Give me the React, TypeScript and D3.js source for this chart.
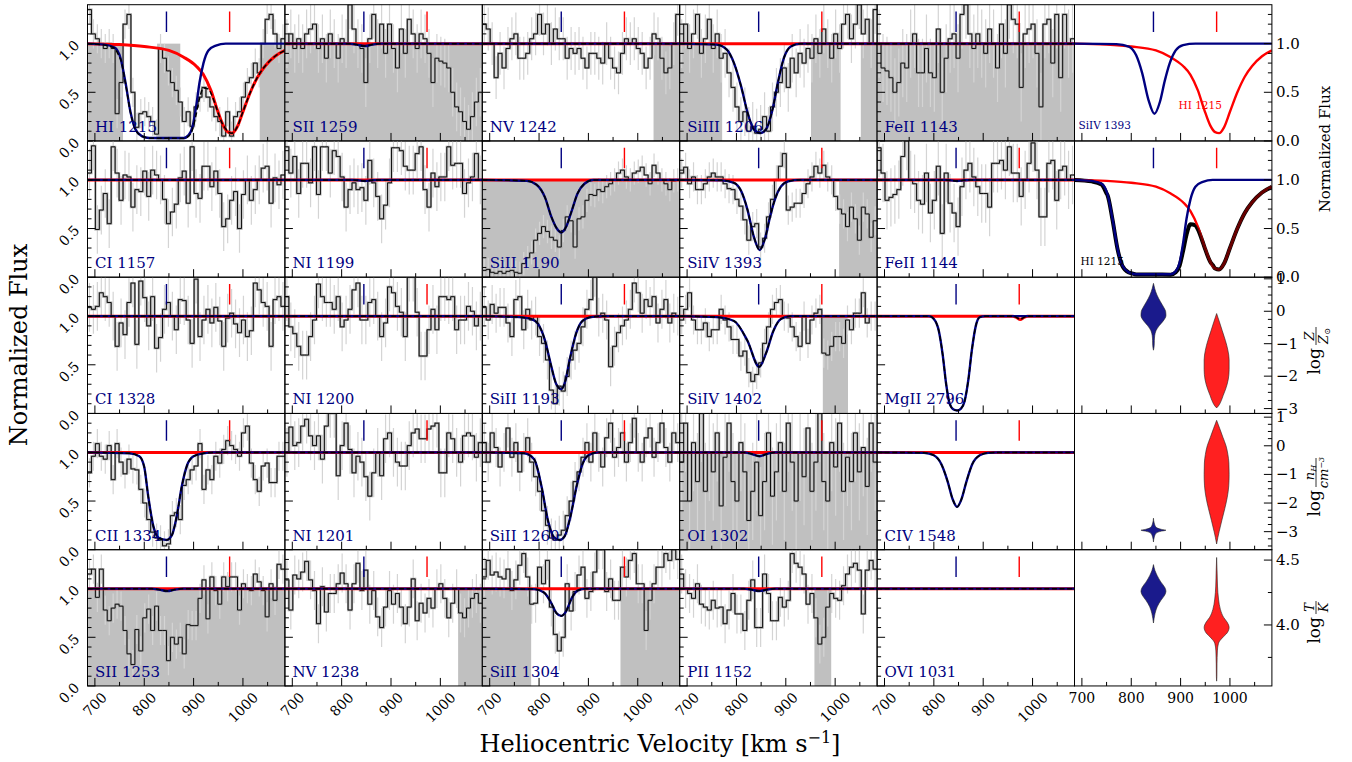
import React from 'react';
import * as d3 from 'd3';

// ---------- axes / grid values ----------
const V_MIN = 685;
const V_MAX = 1085;
const BIN_STEP = 8; // km/s per spectral bin (50 bins)
const X_MAJOR = [700, 800, 900, 1000];
const X_MINOR = [750, 850, 950, 1050];
const FLUX_DOMAIN: [number, number] = [0, 1.4];
const FLUX_MAJOR = [0, 0.5, 1.0];
const FLUX_LABELS = ['0.0', '0.5', '1.0'];
const BLUE_V = 845;
const RED_V = 973;

// ---------- spectra (normalized flux per 8 km/s bin, 685 -> 1085 km/s) ----------
const F_HI1215 = [1.35,1.1,1.05,1.0,0.95,1.0,0.95,0.28,0.6,1.2,1.3,0.5,0.14,0.28,0.3,0.25,0.2,0.07,0.95,0.85,0.72,0.6,0.52,0.4,0.2,0.3,0.15,0.35,0.45,0.55,0.45,0.35,0.25,0.2,0.05,0.3,0.05,0.25,0.3,0.45,0.6,0.65,0.8,0.7,1.0,1.25,1.3,1.1,0.95,1.05];
const F_SII1259 = [1.0,1.1,0.95,1.05,0.95,1.1,1.15,1.2,0.95,1.05,0.85,1.1,1.0,0.85,1.05,1.0,1.4,1.15,1.0,0.95,0.6,1.05,1.3,1.0,1.2,0.9,1.2,0.95,0.75,1.15,0.9,1.25,1.1,0.95,1.1,1.05,0.9,0.6,0.85,0.82,0.8,0.75,0.5,0.35,0.3,0.2,0.12,0.25,0.4,0.5];
const F_NV1242 = [1.2,1.15,1.0,0.65,0.9,0.75,0.95,1.05,1.1,0.85,0.85,0.9,1.05,1.1,1.3,1.1,1.2,1.0,1.15,1.05,1.05,0.85,0.95,0.9,0.95,0.85,0.75,0.9,0.9,0.85,0.8,1.0,0.85,0.75,0.7,0.9,1.05,1.0,1.05,0.95,0.9,0.75,0.85,1.1,1.05,0.85,0.7,0.75,1.0,1.3];
const F_SIIII1206 = [1.0,1.2,0.95,1.1,1.3,0.9,1.05,1.25,0.95,1.1,0.85,0.9,0.7,0.55,0.35,0.2,0.3,0.1,0.15,0.08,0.12,0.25,0.1,0.35,0.5,0.6,0.75,0.55,0.85,0.7,0.9,0.8,0.95,0.85,1.05,0.9,1.15,1.0,0.85,1.1,0.95,1.2,1.3,1.05,1.2,1.4,1.1,1.25,1.0,1.35];
const F_FEII1143 = [1.0,0.75,0.72,0.65,0.5,0.6,0.8,0.75,1.0,1.1,0.7,0.7,0.95,0.7,0.65,1.15,0.5,0.85,1.05,1.1,0.85,1.3,1.4,1.1,0.95,1.1,1.0,0.9,1.15,1.0,0.75,1.2,0.9,1.4,1.25,1.2,0.55,1.1,1.15,1.2,0.9,0.35,1.2,1.25,0.8,1.3,0.65,1.3,1.0,1.05];
const F_CI1157 = [1.07,1.35,0.49,0.69,0.86,0.55,1.34,1.07,0.79,1.05,1.03,0.72,0.9,0.88,1.09,0.83,1.1,1.05,1.0,0.8,0.55,0.67,0.75,1.02,1.09,0.76,1.34,0.86,0.81,1.14,1.14,0.93,1.09,0.86,0.52,0.6,0.79,0.88,0.5,0.85,1.0,0.79,0.9,1.0,1.12,1.14,0.76,1.02,0.95,1.05];
const F_NI1199 = [1.34,1.07,1.24,0.86,1.17,1.17,0.97,1.34,0.85,1.34,1.34,1.07,1.3,1.24,1.03,0.72,0.9,0.97,0.9,0.92,0.79,1.2,0.97,0.83,0.6,0.74,0.97,1.33,1.33,1.3,1.14,1.1,1.1,1.27,1.34,0.9,0.72,1.07,0.93,1.03,1.03,1.34,1.15,1.17,1.17,0.86,0.97,1.03,1.27,1.0];
const F_SIII1190 = [0.07,0.08,0.05,0.04,0.06,0.04,0.06,0.07,0.05,0.04,0.14,0.2,0.25,0.38,0.45,0.52,0.47,0.41,0.38,0.31,0.48,0.62,0.58,0.31,0.6,0.62,0.79,0.85,0.84,0.9,0.88,0.93,0.96,1.0,1.07,1.1,1.03,1.0,1.07,1.09,1.13,1.05,0.96,1.15,1.07,1.0,0.96,0.9,0.99,1.0];
const F_SIIV1393 = [1.07,1.13,0.96,1.03,0.9,0.9,0.96,1.03,1.07,1.03,1.03,0.96,0.91,0.9,0.8,0.73,0.59,0.38,0.52,0.55,0.31,0.4,0.62,0.8,1.0,1.14,1.27,0.69,0.72,0.76,0.76,0.86,0.96,1.03,1.14,1.07,1.15,1.03,1.0,0.83,0.7,0.65,0.52,0.72,0.6,0.38,0.72,0.65,0.41,0.58];
const F_FEII1144 = [1.33,1.07,0.79,0.82,0.85,0.9,1.24,1.4,1.0,0.96,0.79,0.75,1.07,0.66,0.79,1.14,0.45,1.07,0.76,0.66,0.52,0.93,1.1,1.17,1.03,0.93,0.86,0.86,0.72,1.17,1.17,1.2,1.1,1.34,1.07,1.07,0.83,1.0,1.17,1.38,1.1,0.62,0.62,1.17,1.2,0.79,1.1,1.14,1.0,1.05];
const F_CI1328 = [1.09,1.07,1.1,1.24,1.2,1.14,1.0,0.69,0.93,0.81,1.14,1.34,0.71,1.36,1.19,0.9,1.2,0.67,0.78,1.07,1.14,1.0,0.86,1.17,1.16,0.96,0.72,1.38,0.79,0.96,1.07,0.93,1.09,0.95,0.69,0.98,1.03,0.92,0.83,0.96,0.79,0.85,1.34,1.27,1.14,1.1,0.69,1.17,1.2,1.1];
const F_NI1200 = [1.2,0.89,0.82,0.69,0.6,0.6,0.79,0.96,1.33,1.2,1.14,1.14,1.07,1.2,0.89,0.96,1.07,1.27,1.34,0.96,0.96,1.14,1.17,1.0,0.79,0.93,1.3,1.24,1.1,1.04,0.79,1.4,1.4,1.04,0.59,0.59,0.86,1.07,0.86,1.2,1.2,1.17,1.2,0.86,0.96,0.96,1.1,1.05,0.9,1.0];
const F_SIII1193 = [1.09,0.96,1.12,1.03,1.09,1.09,0.93,0.79,1.17,1.2,0.86,1.07,0.96,1.0,0.79,0.72,0.55,0.24,0.1,0.28,0.23,0.38,0.55,0.65,0.72,0.89,1.07,1.17,1.4,0.99,1.03,0.96,0.48,0.69,0.83,0.9,0.96,1.07,1.34,1.24,1.03,1.17,1.1,1.2,0.93,1.07,1.17,0.93,1.03,1.0];
const F_SIIV1402 = [0.96,1.07,1.24,0.96,0.86,0.86,0.93,0.79,0.86,0.86,1.07,0.96,0.89,0.76,0.76,0.59,0.64,0.42,0.33,0.4,0.52,0.72,0.89,1.07,1.14,1.17,1.0,0.98,0.89,0.79,0.69,1.0,0.72,0.96,1.03,1.07,0.62,0.6,0.69,0.79,0.79,0.72,0.96,0.86,1.03,1.03,1.24,0.93,1.0,1.0];
const F_CII1334 = [0.79,0.96,1.09,0.96,0.93,1.07,0.72,1.09,0.9,0.78,0.93,0.83,0.82,0.62,0.48,0.31,0.18,0.12,0.1,0.04,0.06,0.35,0.38,0.31,0.66,0.72,0.82,0.86,1.09,0.62,0.82,0.72,0.96,0.89,1.03,1.12,1.07,1.03,0.96,1.2,1.27,0.89,0.72,0.6,0.86,0.89,0.69,0.69,0.96,0.96];
const F_NI1201 = [1.0,1.26,1.07,1.1,1.27,1.34,1.17,1.07,1.17,0.93,1.27,1.4,1.4,0.76,1.07,1.3,1.03,0.79,0.96,0.9,0.75,0.55,0.79,1.0,0.76,1.14,1.2,1.0,0.9,0.86,0.86,1.07,1.2,1.24,1.14,1.14,1.24,1.27,1.3,0.79,0.79,1.2,1.14,1.0,0.9,1.17,1.2,1.17,0.95,1.1];
const F_SIII1260 = [1.1,0.9,1.2,1.05,0.85,1.0,1.25,0.95,1.1,0.8,1.0,1.15,0.9,0.75,0.6,0.4,0.25,0.12,0.1,0.15,0.2,0.35,0.5,0.7,0.8,0.95,1.1,0.9,1.2,1.0,0.85,1.15,1.3,0.95,1.05,1.2,0.9,1.1,1.35,1.0,0.9,1.15,1.25,0.95,1.1,1.3,1.05,0.9,1.2,1.1];
const F_OI1302 = [0.9,1.3,0.5,1.1,0.7,1.4,0.6,1.0,0.8,1.2,0.45,0.95,1.3,0.7,0.5,1.1,0.8,0.3,0.6,0.9,0.35,0.7,1.2,0.55,0.8,1.1,0.6,1.3,0.9,0.5,1.0,0.75,1.25,0.6,0.9,1.4,0.7,0.5,1.1,0.85,1.3,0.6,0.95,0.7,1.2,0.8,1.05,0.65,1.3,0.9];
const F_SII1253 = [1.15,1.2,0.91,1.2,0.78,0.67,0.8,0.84,0.82,0.57,0.33,0.22,0.58,0.36,0.7,0.79,0.57,0.82,0.57,0.57,0.26,0.5,0.43,0.5,0.33,0.63,0.62,0.62,0.9,1.09,0.69,1.12,0.98,0.84,1.12,1.02,1.12,1.12,0.78,1.05,1.0,0.98,1.15,1.07,0.98,0.71,1.05,0.88,1.25,1.2];
const F_NV1238 = [1.09,0.78,1.14,1.1,1.17,1.28,1.09,0.98,0.64,1.02,0.76,0.95,0.95,1.05,1.16,1.05,0.78,1.05,1.26,0.98,1.19,0.84,0.98,0.71,0.6,0.81,0.98,0.84,0.95,0.81,0.64,0.81,1.1,0.67,0.85,0.75,0.9,0.8,1.0,1.05,0.9,0.7,0.85,1.0,0.75,0.7,0.8,0.9,0.95,0.85];
const F_SIII1304 = [1.12,1.29,1.14,1.17,1.12,1.1,1.2,0.98,1.09,1.24,1.36,1.12,0.84,0.85,1.22,1.05,1.29,0.81,0.53,0.36,0.5,1.05,0.77,0.97,1.14,1.22,0.9,0.97,1.17,1.4,1.4,0.97,1.1,0.88,0.88,1.22,1.12,1.29,1.36,1.05,1.05,0.57,0.88,1.05,1.22,1.22,1.36,1.29,1.4,1.3];
const F_PII1152 = [1.15,1.0,0.95,0.9,1.05,0.84,0.81,0.78,0.88,0.8,0.81,0.64,0.78,0.95,0.74,0.74,0.57,0.88,1.09,0.6,0.6,1.15,0.95,0.67,0.67,0.91,0.81,0.88,1.36,1.26,1.22,1.15,0.84,0.95,0.7,0.43,0.5,0.81,0.95,0.9,0.88,1.03,1.15,1.22,1.26,1.19,0.74,1.19,1.29,1.2];

// ---------- model profiles [velocity, flux] ----------
const M_FLAT = [[685, 1], [1085, 1]];
const M_HI_BLUE = [[685,1],[720,0.99],[740,0.96],[752,0.85],[762,0.6],[772,0.3],[782,0.12],[795,0.05],[810,0.03],[880,0.03],[890,0.06],[898,0.15],[905,0.35],[912,0.6],[920,0.8],[930,0.93],[945,0.98],[965,1],[1085,1]];
const M_HI_RED = [[685,1],[750,0.99],[800,0.97],[850,0.93],[880,0.86],[905,0.77],[920,0.68],[935,0.52],[948,0.32],[960,0.16],[970,0.09],[978,0.08],[988,0.14],[1000,0.3],[1015,0.5],[1030,0.66],[1045,0.77],[1065,0.87],[1085,0.93]];
const M_SIIII_BLUE = [[685,1],[760,0.99],[780,0.94],[795,0.8],[810,0.55],[822,0.3],[835,0.12],[848,0.08],[860,0.12],[872,0.3],[884,0.6],[896,0.85],[910,0.97],[930,1],[1085,1]];
const M_SIIV1393_BLUE = [[685,1],[770,0.995],[795,0.97],[810,0.88],[822,0.7],[835,0.42],[847,0.28],[858,0.4],[868,0.62],[878,0.8],[890,0.93],[905,0.985],[930,1],[1085,1]];
const M_SIII1190_BLUE = [[685,1],[775,0.99],[795,0.95],[812,0.82],[825,0.62],[836,0.5],[845,0.46],[855,0.52],[866,0.68],[878,0.86],[892,0.96],[910,1],[1085,1]];
const M_SIII1193_BLUE = [[685,1],[760,0.99],[785,0.97],[798,0.92],[812,0.75],[824,0.5],[835,0.3],[845,0.25],[853,0.33],[862,0.55],[875,0.82],[888,0.95],[905,0.99],[930,1],[1085,1]];
const M_SIIV1402_BLUE = [[685,1],[760,0.99],[795,0.95],[822,0.75],[846,0.48],[860,0.62],[875,0.85],[890,0.97],[910,1],[1085,1]];
const M_MGII_BLUE = [[685,1],[790,1],[800,0.97],[810,0.85],[818,0.6],[825,0.3],[832,0.1],[840,0.04],[847,0.03],[855,0.05],[862,0.12],[870,0.35],[877,0.65],[885,0.9],[893,0.99],[905,1],[1085,1]];
const M_MGII_RED = [[685,1],[960,1],[968,0.985],[975,0.965],[982,0.985],[990,1],[1085,1]];
const M_CII_BLUE = [[685,1],[770,0.99],[790,0.96],[800,0.85],[808,0.55],[818,0.25],[830,0.12],[845,0.1],[856,0.15],[866,0.35],[876,0.65],[887,0.87],[900,0.96],[920,0.99],[940,1],[1085,1]];
const M_SIII1260_BLUE = [[685,1],[770,0.99],[790,0.93],[805,0.65],[818,0.3],[830,0.13],[842,0.1],[852,0.14],[864,0.35],[876,0.65],[888,0.88],[900,0.97],[920,1],[1085,1]];
const M_CIV_BLUE = [[685,1],[780,0.995],[800,0.97],[815,0.88],[828,0.7],[838,0.52],[847,0.44],[856,0.52],[866,0.7],[878,0.88],[893,0.97],[910,0.995],[930,1],[1085,1]];
const M_SIII1304_BLUE = [[685,1],[790,0.995],[810,0.96],[825,0.85],[835,0.75],[845,0.72],[855,0.77],[866,0.9],[878,0.98],[895,1],[1085,1]];
const M_WEAK_BLUE = [[685,1],[815,1],[830,0.99],[847,0.975],[862,0.99],[878,1],[1085,1]];
const M_FAINT_BLUE = [[685,1],[820,1],[835,0.995],[847,0.988],[860,0.995],[875,1],[1085,1]];
const M_OI_BLUE = [[685,1],[815,1],[830,0.985],[847,0.96],[862,0.985],[878,1],[1085,1]];

// ---------- posterior violins: [parameter value, relative density] ----------
const V_Z_BLUE = [[0.86,0],[0.7,0.1],[0.5,0.28],[0.3,0.55],[0.1,0.85],[0.0,0.97],[-0.13,1],[-0.3,0.78],[-0.45,0.45],[-0.6,0.2],[-0.75,0.1],[-0.9,0.07],[-1.05,0.06],[-1.2,0]];
const V_Z_RED = [[-0.07,0],[-0.3,0.2],[-0.6,0.45],[-0.9,0.7],[-1.2,0.9],[-1.5,1],[-1.8,1],[-2.1,0.93],[-2.4,0.72],[-2.6,0.52],[-2.8,0.32],[-2.92,0.14],[-2.98,0]];
const V_NH_BLUE = [[-2.53,0],[-2.7,0.06],[-2.85,0.22],[-2.92,0.65],[-2.95,1],[-2.98,0.65],[-3.05,0.22],[-3.2,0.06],[-3.36,0]];
const V_NH_RED = [[0.89,0],[0.6,0.25],[0.3,0.5],[0.0,0.75],[-0.3,0.9],[-0.6,0.98],[-1.0,1],[-1.4,0.97],[-1.8,0.85],[-2.2,0.65],[-2.6,0.42],[-3.0,0.2],[-3.2,0.1],[-3.43,0]];
const V_T_BLUE = [[4.465,0],[4.42,0.12],[4.38,0.3],[4.33,0.6],[4.29,0.9],[4.26,1],[4.23,0.9],[4.19,0.6],[4.14,0.3],[4.09,0.13],[4.05,0.05],[4.015,0]];
const V_T_RED = [[4.52,0],[4.4,0.04],[4.3,0.07],[4.2,0.15],[4.12,0.3],[4.06,0.55],[4.02,0.85],[3.98,1],[3.94,0.85],[3.9,0.45],[3.86,0.15],[3.8,0.06],[3.7,0.03],[3.6,0.02],[3.567,0]];

// ---------- panel table ----------
type Panel = { label: string; flux: number[] | null; err: number; shade: number[][]; blue: number[][]; red: number[][] };
const ALL = [[685, 1085]];
const ROWS: Panel[][] = [
  [
    { label: 'HI 1215', flux: F_HI1215, err: 0.15, shade: [[685,757],[826,873],[1034,1085]], blue: M_HI_BLUE, red: M_HI_RED },
    { label: 'SII 1259', flux: F_SII1259, err: 0.25, shade: ALL, blue: M_WEAK_BLUE, red: M_FLAT },
    { label: 'NV 1242', flux: F_NV1242, err: 0.22, shade: [[1032,1085]], blue: M_FLAT, red: M_FLAT },
    { label: 'SiIII 1206', flux: F_SIIII1206, err: 0.25, shade: [[685,771],[951,1011],[1052,1085]], blue: M_SIIII_BLUE, red: M_FLAT },
    { label: 'FeII 1143', flux: F_FEII1143, err: 0.35, shade: ALL, blue: M_FLAT, red: M_FLAT },
  ],
  [
    { label: 'CI 1157', flux: F_CI1157, err: 0.25, shade: [], blue: M_FLAT, red: M_FLAT },
    { label: 'NI 1199', flux: F_NI1199, err: 0.25, shade: [], blue: M_FAINT_BLUE, red: M_FLAT },
    { label: 'SiII 1190', flux: F_SIII1190, err: 0.12, shade: ALL, blue: M_SIII1190_BLUE, red: M_FLAT },
    { label: 'SiIV 1393', flux: F_SIIV1393, err: 0.15, shade: [[1008,1085]], blue: M_SIIV1393_BLUE, red: M_FLAT },
    { label: 'FeII 1144', flux: F_FEII1144, err: 0.3, shade: [], blue: M_FAINT_BLUE, red: M_FLAT },
  ],
  [
    { label: 'CI 1328', flux: F_CI1328, err: 0.25, shade: [], blue: M_FLAT, red: M_FLAT },
    { label: 'NI 1200', flux: F_NI1200, err: 0.25, shade: [], blue: M_FLAT, red: M_FLAT },
    { label: 'SiII 1193', flux: F_SIII1193, err: 0.2, shade: [], blue: M_SIII1193_BLUE, red: M_FLAT },
    { label: 'SiIV 1402', flux: F_SIIV1402, err: 0.15, shade: [[975,1026]], blue: M_SIIV1402_BLUE, red: M_FLAT },
    { label: 'MgII 2796', flux: null, err: 0, shade: [], blue: M_MGII_BLUE, red: M_MGII_RED },
  ],
  [
    { label: 'CII 1334', flux: F_CII1334, err: 0.15, shade: [], blue: M_CII_BLUE, red: M_FLAT },
    { label: 'NI 1201', flux: F_NI1201, err: 0.25, shade: [], blue: M_FLAT, red: M_FLAT },
    { label: 'SiII 1260', flux: F_SIII1260, err: 0.2, shade: [], blue: M_SIII1260_BLUE, red: M_FLAT },
    { label: 'OI 1302', flux: F_OI1302, err: 0.5, shade: ALL, blue: M_OI_BLUE, red: M_FLAT },
    { label: 'CIV 1548', flux: null, err: 0, shade: [], blue: M_CIV_BLUE, red: M_FLAT },
  ],
  [
    { label: 'SII 1253', flux: F_SII1253, err: 0.15, shade: ALL, blue: M_WEAK_BLUE, red: M_FLAT },
    { label: 'NV 1238', flux: F_NV1238, err: 0.2, shade: [[1036,1085]], blue: M_FLAT, red: M_FLAT },
    { label: 'SiII 1304', flux: F_SIII1304, err: 0.2, shade: [[685,784],[965,1085]], blue: M_SIII1304_BLUE, red: M_FLAT },
    { label: 'PII 1152', flux: F_PII1152, err: 0.2, shade: [[958,992]], blue: M_WEAK_BLUE, red: M_FLAT },
    { label: 'OVI 1031', flux: null, err: 0, shade: [], blue: M_FLAT, red: M_FLAT },
  ],
];

// right-column parameter axes
const Z_DOMAIN: [number, number] = [-3.15, 1.05];
const NH_DOMAIN: [number, number] = [-3.63, 1.13];
const T_DOMAIN: [number, number] = [3.53, 4.58];
const PARAM_MAJOR = [1, 0, -1, -2, -3];
const PARAM_LABELS = ['1', '0', '\u22121', '\u22122', '\u22123'];
const T_MAJOR = [4.0, 4.5];
const T_LABELS = ['4.0', '4.5'];

// ---------- layout ----------
const LEFT = 87.5;
const TOP = 4.7;
const COL_W = 197.4;
const ROW_H = 136.25;
const FONT = '"DejaVu Serif", "Liberation Serif", serif';
const NAVY = '#000080';
const GREY_SHADE = '#c0c0c0';

const colX = (c: number) => LEFT + c * COL_W;
const rowY = (r: number) => TOP + r * ROW_H;

function interp(pts: number[][]) {
  return d3.scaleLinear().domain(pts.map(p => p[0])).range(pts.map(p => p[1])).clamp(true);
}

function product(a: number[][], b: number[][]) {
  const xs = Array.from(new Set([...a.map(p => p[0]), ...b.map(p => p[0])])).sort((p, q) => p - q);
  const ia = interp(a), ib = interp(b);
  return xs.map(x => [x, ia(x) * ib(x)]);
}

function XTicks({ x, bottom }: { x: d3.ScaleLinear<number, number>; bottom: number }) {
  return (
    <g stroke="#000" strokeWidth={1}>
      {X_MAJOR.map(v => <line key={'M' + v} x1={x(v)} x2={x(v)} y1={bottom} y2={bottom - 8} />)}
      {X_MINOR.map(v => <line key={'m' + v} x1={x(v)} x2={x(v)} y1={bottom} y2={bottom - 4} />)}
    </g>
  );
}

function FluxPanel({ r, c, p }: { r: number; c: number; p: Panel }) {
  const x0 = colX(c), y0 = rowY(r);
  const x = d3.scaleLinear().domain([V_MIN, V_MAX]).range([x0, x0 + COL_W]);
  const y = d3.scaleLinear().domain(FLUX_DOMAIN).range([y0 + ROW_H, y0]);
  const id = `clip-${r}-${c}`;
  const line = d3.line<number[]>().x(d => x(d[0])).y(d => y(d[1])).curve(d3.curveMonotoneX);
  let step = '';
  let bins: number[][] = [];
  if (p.flux) {
    const edges = p.flux.map((f, i) => [V_MIN + BIN_STEP * i, f]);
    edges.push([V_MIN + BIN_STEP * p.flux.length, p.flux[p.flux.length - 1]]);
    step = d3.line<number[]>().x(d => x(d[0])).y(d => y(d[1])).curve(d3.curveStepAfter)(edges) || '';
    bins = p.flux.map((f, i) => [V_MIN + BIN_STEP * (i + 0.5), f]);
  }
  const total = product(p.blue, p.red);
  const minor = d3.range(1, 14).map(k => k / 10).filter(v => Math.abs(v - 0.5) > 1e-6 && Math.abs(v - 1) > 1e-6);
  return (
    <g>
      <defs>
        <clipPath id={id}><rect x={x0} y={y0} width={COL_W} height={ROW_H} /></clipPath>
      </defs>
      <g clipPath={`url(#${id})`}>
        {p.shade.map((s, i) => (
          <rect key={i} x={x(s[0])} y={y(1)} width={x(s[1]) - x(s[0])} height={y(0) - y(1)} fill={GREY_SHADE} />
        ))}
        {bins.map((b, i) => (
          <line key={i} x1={x(b[0])} x2={x(b[0])} y1={y(b[1] - p.err)} y2={y(b[1] + p.err)} stroke="#d4d4d4" strokeWidth={1.2} />
        ))}
        {p.flux && <path d={step} fill="none" stroke="#a8a8a8" strokeWidth={2.2} />}
        {p.flux && <path d={step} fill="none" stroke="#000" strokeWidth={0.9} />}
        <path d={line(p.red) || ''} fill="none" stroke="#ff0000" strokeWidth={3} />
        <path d={line(p.blue) || ''} fill="none" stroke={NAVY} strokeWidth={2.4} />
        <path d={line(total) || ''} fill="none" stroke="#000" strokeWidth={1.5} strokeDasharray="5,2.6" />
        <line x1={x(BLUE_V)} x2={x(BLUE_V)} y1={y(1.12)} y2={y(1.33)} stroke={NAVY} strokeWidth={1.4} />
        <line x1={x(RED_V)} x2={x(RED_V)} y1={y(1.12)} y2={y(1.33)} stroke="#ff0000" strokeWidth={1.4} />
      </g>
      <g stroke="#000" strokeWidth={1}>
        {FLUX_MAJOR.map(v => <line key={'M' + v} x1={x0} x2={x0 + 8} y1={y(v)} y2={y(v)} />)}
        {minor.map(v => <line key={'m' + v} x1={x0} x2={x0 + 4} y1={y(v)} y2={y(v)} />)}
      </g>
      <XTicks x={x} bottom={y0 + ROW_H} />
      <text x={x0 + 7.5} y={y0 + ROW_H - 9} fontFamily={FONT} fontSize={15} fill={NAVY}>{p.label}</text>
      <rect x={x0} y={y0} width={COL_W} height={ROW_H} fill="none" stroke="#000" strokeWidth={1} />
      {c === 0 && FLUX_MAJOR.map((v, i) => (
        <text key={'l' + v} transform={`translate(69,${y(v) + 7}) rotate(-45)`} textAnchor="middle" dominantBaseline="central"
          fontFamily={FONT} fontSize={14}>{FLUX_LABELS[i]}</text>
      ))}
      {r === 4 && X_MAJOR.map(v => {
        const lbl = String(v);
        const h = (lbl.length * 8.9 + 11) / Math.SQRT2;
        return (
          <text key={'x' + v} transform={`translate(${x(v)},${691 + h / 2}) rotate(-45)`} textAnchor="middle" dominantBaseline="central"
            fontFamily={FONT} fontSize={14}>{lbl}</text>
        );
      })}
    </g>
  );
}

function RightTicks({ y, major, labels, minor }: { y: d3.ScaleLinear<number, number>; major: number[]; labels: string[]; minor: number[] }) {
  const xr = colX(5) + COL_W;
  return (
    <g>
      <g stroke="#000" strokeWidth={1}>
        {major.map(v => <line key={'M' + v} x1={xr} x2={xr - 8} y1={y(v)} y2={y(v)} />)}
        {minor.map(v => <line key={'m' + v} x1={xr} x2={xr - 4} y1={y(v)} y2={y(v)} />)}
      </g>
      {major.map((v, i) => (
        <text key={'t' + v} x={xr + 4} y={y(v)} dominantBaseline="central" fontFamily={FONT} fontSize={15}>{labels[i]}</text>
      ))}
    </g>
  );
}

function ModelPanel({ r }: { r: number }) {
  const x0 = colX(5), y0 = rowY(r);
  const x = d3.scaleLinear().domain([V_MIN, V_MAX]).range([x0, x0 + COL_W]);
  const y = d3.scaleLinear().domain(FLUX_DOMAIN).range([y0 + ROW_H, y0]);
  const line = d3.line<number[]>().x(d => x(d[0])).y(d => y(d[1])).curve(d3.curveMonotoneX);
  const id = `clip-m-${r}`;
  const minor = d3.range(1, 14).map(k => k / 10).filter(v => Math.abs(v - 0.5) > 1e-6 && Math.abs(v - 1) > 1e-6);
  const blue = r === 0 ? M_SIIV1393_BLUE : M_HI_BLUE;
  const total = product(M_HI_BLUE, M_HI_RED);
  return (
    <g>
      <defs><clipPath id={id}><rect x={x0} y={y0} width={COL_W} height={ROW_H} /></clipPath></defs>
      <g clipPath={`url(#${id})`}>
        {r === 1 && <path d={line(total) || ''} fill="none" stroke="#000" strokeWidth={4} />}
        <path d={line(M_HI_RED) || ''} fill="none" stroke="#ff0000" strokeWidth={2.4} />
        <path d={line(blue) || ''} fill="none" stroke={NAVY} strokeWidth={2.4} />
        {r === 1 && <path d={line(total.filter(d => d[0] > 925)) || ''} fill="none" stroke="#000" strokeWidth={2.4} opacity={0.6} />}
        <line x1={x(BLUE_V)} x2={x(BLUE_V)} y1={y(1.12)} y2={y(1.33)} stroke={NAVY} strokeWidth={1.4} />
        <line x1={x(RED_V)} x2={x(RED_V)} y1={y(1.12)} y2={y(1.33)} stroke="#ff0000" strokeWidth={1.4} />
      </g>
      <XTicks x={x} bottom={y0 + ROW_H} />
      <RightTicks y={y} major={FLUX_MAJOR} labels={FLUX_LABELS} minor={minor} />
      {r === 0 && <text x={x0 + 4} y={y0 + 124} fontFamily={FONT} fontSize={10.5} fill={NAVY}>SiIV 1393</text>}
      {r === 0 && <text x={x0 + 104} y={y0 + 104} fontFamily={FONT} fontSize={10.5} fill="#ff0000">HI 1215</text>}
      {r === 1 && <text x={x0 + 6} y={y0 + 124} fontFamily={FONT} fontSize={10.5} fill="#000">HI 1215</text>}
      <rect x={x0} y={y0} width={COL_W} height={ROW_H} fill="none" stroke="#000" strokeWidth={1} />
    </g>
  );
}

function ViolinPanel({ r, domain, blue, red, major, labels, minorStep }: {
  r: number; domain: [number, number]; blue: number[][]; red: number[][]; major: number[]; labels: string[]; minorStep: number;
}) {
  const x0 = colX(5), y0 = rowY(r);
  const x = d3.scaleLinear().domain([V_MIN, V_MAX]).range([x0, x0 + COL_W]);
  const y = d3.scaleLinear().domain(domain).range([y0 + ROW_H, y0]);
  const halfW = 12.5;
  const area = (cx: number) => d3.area<number[]>()
    .y(d => y(d[0]))
    .x0(d => cx - d[1] * halfW)
    .x1(d => cx + d[1] * halfW)
    .curve(d3.curveMonotoneY);
  const sortV = (a: number[][]) => [...a].sort((p, q) => p[0] - q[0]);
  const lo = Math.ceil(domain[0] / minorStep) * minorStep;
  const minor = d3.range(lo, domain[1], minorStep).filter(v => !major.some(m => Math.abs(m - v) < 1e-6));
  return (
    <g>
      <path d={area(x(BLUE_V))(sortV(blue)) || ''} fill="#1a1a8c" stroke="#222" strokeWidth={0.6} />
      <path d={area(x(RED_V))(sortV(red)) || ''} fill="#ff2020" stroke="#222" strokeWidth={0.6} />
      <XTicks x={x} bottom={y0 + ROW_H} />
      <RightTicks y={y} major={major} labels={labels} minor={minor} />
      <rect x={x0} y={y0} width={COL_W} height={ROW_H} fill="none" stroke="#000" strokeWidth={1} />
    </g>
  );
}

function ParamLabel({ cy, num, den, w }: { cy: number; num: React.ReactNode; den: React.ReactNode; w: number }) {
  // rotated label: "log" followed by a fraction
  return (
    <g transform={`translate(1320,${cy}) rotate(-90)`} fontFamily={FONT}>
      <text x={0} y={0} fontSize={17} textAnchor="end">log</text>
      <text x={4 + w / 2} y={-6} fontSize={13} textAnchor="middle" fontStyle="italic">{num}</text>
      <line x1={3} x2={5 + w} y1={-4} y2={-4} stroke="#000" strokeWidth={0.8} />
      <text x={4 + w / 2} y={7.5} fontSize={13} textAnchor="middle" fontStyle="italic">{den}</text>
    </g>
  );
}

export default function App() {
  const bottom = rowY(5);
  const x6 = d3.scaleLinear().domain([V_MIN, V_MAX]).range([colX(5), colX(5) + COL_W]);
  return (
    <svg width={1352} height={762} style={{ display: 'block', position: 'absolute', left: 0, top: 0, background: '#fff' }}>
      <rect x={0} y={0} width={1352} height={762} fill="#fff" />
      {ROWS.map((row, r) => row.map((p, c) => <FluxPanel key={`${r}-${c}`} r={r} c={c} p={p} />))}
      <ModelPanel r={0} />
      <ModelPanel r={1} />
      <ViolinPanel r={2} domain={Z_DOMAIN} blue={V_Z_BLUE} red={V_Z_RED} major={PARAM_MAJOR} labels={PARAM_LABELS} minorStep={0.25} />
      <ViolinPanel r={3} domain={NH_DOMAIN} blue={V_NH_BLUE} red={V_NH_RED} major={PARAM_MAJOR} labels={PARAM_LABELS} minorStep={0.25} />
      <ViolinPanel r={4} domain={T_DOMAIN} blue={V_T_BLUE} red={V_T_RED} major={T_MAJOR} labels={T_LABELS} minorStep={0.25} />
      {X_MAJOR.map(v => (
        <text key={v} x={x6(v)} y={bottom + 17} textAnchor="middle" fontFamily={FONT} fontSize={14}>{v}</text>
      ))}
      <text transform="translate(1330,149) rotate(-90)" textAnchor="middle" fontFamily={FONT} fontSize={15}>Normalized Flux</text>
      <ParamLabel cy={348} w={16} num={<tspan>Z</tspan>} den={<tspan>Z<tspan fontSize={8} dy={2}>⊙</tspan></tspan>} />
      <ParamLabel cy={490} w={27} num={<tspan>n<tspan fontSize={8} dy={2}>H</tspan></tspan>} den={<tspan>cm<tspan fontSize={8} dy={-4}>−3</tspan></tspan>} />
      <ParamLabel cy={617} w={11} num={<tspan>T</tspan>} den={<tspan>K</tspan>} />
      <text transform="translate(27,345) rotate(-90)" textAnchor="middle" fontFamily={FONT} fontSize={24}>Normalized Flux</text>
      <text x={660} y={752} textAnchor="middle" fontFamily={FONT} fontSize={24}>
        Heliocentric Velocity [km s<tspan dy={-9} fontSize={16}>−1</tspan><tspan dy={9}>]</tspan>
      </text>
    </svg>
  );
}
